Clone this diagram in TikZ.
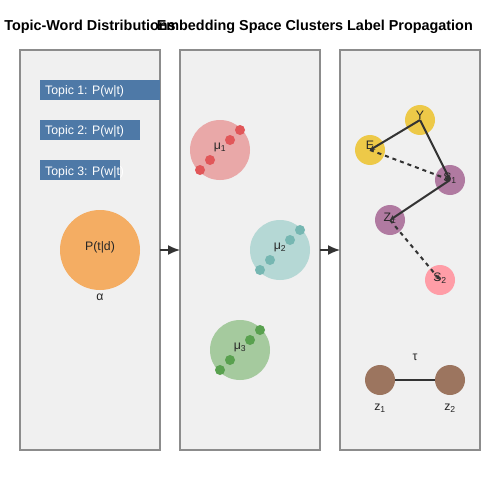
\documentclass[tikz,border=0pt]{standalone}
\usepackage{fontspec}
\setmainfont{Liberation Sans}
\usetikzlibrary{arrows.meta}
\definecolor{panelfill}{HTML}{F0F0F0}
\definecolor{panelline}{HTML}{8C8C8C}
\definecolor{barblue}{HTML}{4E79A7}
\definecolor{orangeC}{HTML}{F4AD63}
\definecolor{redbg}{HTML}{E9A8A8}
\definecolor{redpt}{HTML}{E15759}
\definecolor{tealbg}{HTML}{B5D8D5}
\definecolor{tealpt}{HTML}{76B7B2}
\definecolor{greenbg}{HTML}{A5CA9E}
\definecolor{greenpt}{HTML}{59A14F}
\definecolor{yellowC}{HTML}{EDC948}
\definecolor{purpleC}{HTML}{B07AA1}
\definecolor{pinkC}{HTML}{FF9DA7}
\definecolor{brownC}{HTML}{9C755F}
\definecolor{edgeC}{HTML}{333333}
\tikzset{
  panel/.style={draw=panelline, fill=panelfill, line width=1.5pt, minimum width=140pt, minimum height=400pt, inner sep=0pt, outer sep=0pt},
  title/.style={font=\fontsize{14.4}{16}\selectfont\bfseries, anchor=base, inner sep=0pt},
  topicbar/.style={fill=barblue, minimum height=20pt, inner sep=0pt, outer sep=0pt, anchor=north west},
  bartext/.style={text=white, font=\fontsize{12.3}{14}\selectfont, anchor=base west, inner sep=0pt},
  lbl/.style={text=black!85, font=\fontsize{12.3}{14}\selectfont, anchor=base, inner sep=0pt},
  blob/.style={circle, minimum size=60pt, inner sep=0pt, outer sep=0pt},
  pt/.style={circle, minimum size=10pt, inner sep=0pt},
  gnode/.style={circle, minimum size=30pt, inner sep=0pt, outer sep=0pt},
  edge/.style={draw=edgeC, line width=2pt, -{Stealth[length=5pt,width=5pt]}},
  dedge/.style={edge, dash pattern=on 4pt off 4pt},
  flow/.style={draw=edgeC, line width=1.5pt, -{Latex[length=12pt,width=10pt]}}
}
\begin{document}
\begin{tikzpicture}[x=1pt,y=-1pt]
\useasboundingbox (0,0) rectangle (500,500);
% titles
\node[title] (t1) at (90,30.5) {Topic-Word Distributions};
\node[title] (t2) at (250,30.5) {Embedding Space Clusters};
\node[title] (t3) at (410,30.5) {Label Propagation};
% panels
\node[panel] (p1) at (90,250) {};
\node[panel] (p2) at (250,250) {};
\node[panel] (p3) at (410,250) {};
% topic bars
\node[topicbar, minimum width=120pt] (b1) at (40,80) {};
\node[topicbar, minimum width=100pt] (b2) at (40,120) {};
\node[topicbar, minimum width=80pt] (b3) at (40,160) {};
\node[bartext] (bt1) at (45,95) {Topic 1: P(w|t)};
\node[bartext] (bt2) at (45,135) {Topic 2: P(w|t)};
\node[bartext] (bt3) at (45,175) {Topic 3: P(w|t)};
% document-topic
\node[blob, fill=orangeC, minimum size=80pt] (ptd) at (100,250) {};
\node[lbl] (ptdl) at (100,250.5) {P(t|d)};
\node[lbl] (alpha) at (100,300.5) {α};
% clusters
\node[blob, fill=redbg] (c1) at (220,150) {};
\foreach \x/\y [count=\i] in {200/170,210/160,230/140,240/130}
  \node[pt, fill=redpt] (r\i) at (\x,\y) {};
\node[lbl] (m1) at (220,149.5) {μ\textsubscript{1}};
\node[blob, fill=tealbg] (c2) at (280,250) {};
\foreach \x/\y [count=\i] in {260/270,270/260,290/240,300/230}
  \node[pt, fill=tealpt] (s\i) at (\x,\y) {};
\node[lbl] (m2) at (280,249.5) {μ\textsubscript{2}};
\node[blob, fill=greenbg] (c3) at (240,350) {};
\foreach \x/\y [count=\i] in {220/370,230/360,250/340,260/330}
  \node[pt, fill=greenpt] (g\i) at (\x,\y) {};
\node[lbl] (m3) at (240,349.5) {μ\textsubscript{3}};
% label propagation graph
\node[gnode, fill=yellowC] (Y) at (420,120) {};
\node[gnode, fill=yellowC] (E) at (370,150) {};
\node[gnode, fill=purpleC] (S1) at (450,180) {};
\node[gnode, fill=purpleC] (Z1) at (390,220) {};
\node[gnode, fill=pinkC] (S2) at (440,280) {};
\node[lbl] at (420,119) {Y};
\node[lbl] at (370,149) {E};
\node[lbl] at (450,181.5) {S\textsubscript{1}};
\node[lbl] at (390,221.5) {Z\textsubscript{1}};
\node[lbl] at (440,281.5) {S\textsubscript{2}};
\draw[edge] (Y.center) -- (E.center);
\draw[edge] (Y.center) -- (S1.center);
\draw[dedge] (E.center) -- (S1.center);
\draw[edge] (S1.center) -- (Z1.center);
\draw[dedge] (Z1.center) -- (S2.center);
% bottom pair
\node[gnode, fill=brownC] (za) at (380,380) {};
\node[gnode, fill=brownC] (zb) at (450,380) {};
\draw[draw=edgeC, line width=2pt] (za) -- (zb);
\node[lbl] (tau) at (415,360.5) {τ};
\node[lbl] (zal) at (380,410.5) {z\textsubscript{1}};
\node[lbl] (zbl) at (450,410.5) {z\textsubscript{2}};
% flow arrows
\draw[flow] (p1.east) -- (p2.west);
\draw[flow] (p2.east) -- (p3.west);
\end{tikzpicture}
\end{document}
